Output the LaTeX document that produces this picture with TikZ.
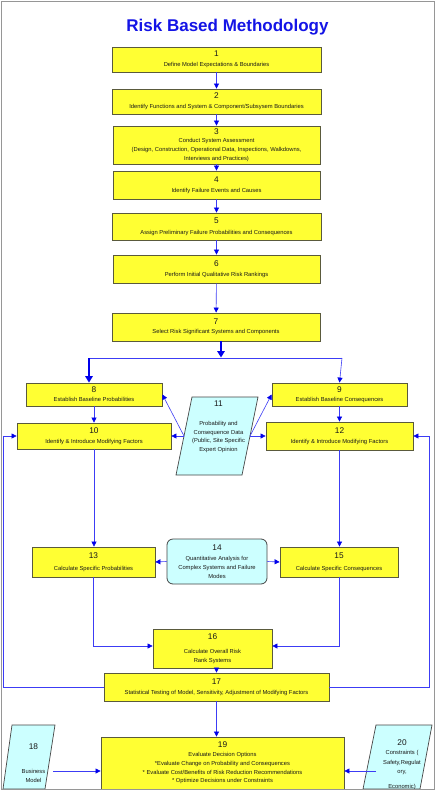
\documentclass[tikz,border=0pt]{standalone}
\usepackage{fontspec}
\setmainfont{Liberation Sans}
\usetikzlibrary{arrows.meta}
\definecolor{boxyel}{RGB}{255,255,51}
\definecolor{boxedge}{RGB}{90,90,60}
\definecolor{datacyan}{RGB}{204,255,255}
\definecolor{dataedge}{RGB}{70,70,70}
\definecolor{linkblue}{RGB}{60,60,245}
\definecolor{tipblue}{RGB}{0,0,235}
\definecolor{titleblue}{RGB}{20,20,230}
\definecolor{framegray}{RGB}{150,150,150}
\newcommand{\stepnum}[1]{{\fontsize{8.3}{8.8}\selectfont #1}}
\tikzset{
  stepbox/.style={draw=boxedge, fill=boxyel, line width=0.8pt, inner sep=0pt,
    align=center, font=\fontsize{5.8}{8.8}\selectfont, text=black!90},
  roundbox/.style={stepbox, fill=datacyan, draw=dataedge, rounded corners=6pt},
  datatext/.style={inner sep=0pt, align=center, font=\fontsize{5.8}{8.8}\selectfont, text=black!90},
  datashape/.style={draw=dataedge, fill=datacyan, line width=0.7pt},
  arr/.style={draw=linkblue, line width=0.6pt, -{Triangle[length=5pt,width=5pt,color=tipblue]}},
  thickarr/.style={draw=tipblue, line width=1.5pt, -{Triangle[length=6.5pt,width=7.5pt,color=tipblue]}},
  link/.style={draw=linkblue, line width=0.9pt},
}
\begin{document}
\begin{tikzpicture}[x=1pt,y=-1pt]
\useasboundingbox (0,0) rectangle (439,795);
\fill[white] (0,0) rectangle (439,795);

\node[font=\fontsize{17}{20}\selectfont\bfseries, text=titleblue, inner sep=0pt] (title) at (227.5,27.5) {Risk Based Methodology};

\node[stepbox, minimum width=209pt, minimum height=25pt] (b1) at (216.5,59.5) {\stepnum{1}\\[0.8pt]Define Model Expectations \& Boundaries};
\node[stepbox, minimum width=209pt, minimum height=25pt] (b2) at (216.5,101.5) {\stepnum{2}\\[0.8pt]Identify Functions and System \& Component/Subsysem Boundaries};
\node[stepbox, minimum width=207pt, minimum height=38pt] (b3) at (216.5,145) {\stepnum{3}\\Conduct System Assessment\\(Design, Construction, Operational Data, Inspections, Walkdowns,\\Interviews and Practices)};
\node[stepbox, minimum width=207pt, minimum height=28pt] (b4) at (216.5,185) {\stepnum{4}\\[1.5pt]Identify Failure Events and Causes};
\node[stepbox, minimum width=209pt, minimum height=27pt] (b5) at (216.5,226.5) {\stepnum{5}\\[2pt]Assign Preliminary Failure Probabilities and Consequences};
\node[stepbox, minimum width=207pt, minimum height=28pt] (b6) at (216.5,269) {\stepnum{6}\\[1pt]Perform Initial Qualitative Risk Rankings};
\node[stepbox, minimum width=208pt, minimum height=28pt] (b7) at (216,327) {\stepnum{7}\\Select Risk Significant Systems and Components};

\node[stepbox, minimum width=136pt, minimum height=23pt] (b8) at (94,394.5) {\stepnum{8}\\Establish Baseline Probabilities};
\node[stepbox, minimum width=135pt, minimum height=23pt] (b9) at (339.5,394.5) {\stepnum{9}\\Establish Baseline Consequences};
\node[stepbox, minimum width=154pt, minimum height=26pt] (b10) at (94,436) {\stepnum{10}\\[1pt]Identify \& Introduce Modifying Factors};
\node[stepbox, minimum width=147pt, minimum height=28pt] (b12) at (339.5,436) {\stepnum{12}\\[1.5pt]Identify \& Introduce Modifying Factors};

% 11 data parallelogram
\coordinate (p11a) at (192,397);
\coordinate (p11b) at (258,397);
\coordinate (p11c) at (242,475);
\coordinate (p11d) at (176,475);
\draw[datashape] (p11a) -- (p11b) -- (p11c) -- (p11d) -- cycle;
\node[datatext] (b11) at (218.5,427) {\stepnum{11}\\[9.5pt]Probability and\\Consequence Data\\(Public, Site Specific\\Expert Opinion};
\coordinate (c11L) at (184,436);
\coordinate (c11R) at (250,436);

\node[stepbox, minimum width=123pt, minimum height=30pt] (b13) at (93.5,562) {\stepnum{13}\\[3pt]Calculate Specific Probabilities};
\node[roundbox, minimum width=100pt, minimum height=45pt] (b14) at (217,561.5) {\stepnum{14}\\[1.5pt]Quantitative Analysis for\\Complex Systems and Failure\\Modes};
\node[stepbox, minimum width=118pt, minimum height=30pt] (b15) at (339,562) {\stepnum{15}\\[3pt]Calculate Specific Consequences};
\node[stepbox, minimum width=119pt, minimum height=39pt] (b16) at (212.5,648.5) {\stepnum{16}\\[6pt]Calculate Overall Risk\\Rank Systems};
\node[stepbox, minimum width=225pt, minimum height=28pt] (b17) at (216.5,687) {\stepnum{17}\\[1.5pt]Statistical Testing of Model, Sensitivity, Adjustment of Modifying Factors};
\node[stepbox, minimum width=243pt, minimum height=52pt] (b19) at (222.5,763) {\stepnum{19}\\Evaluate Decision Options\\*Evaluate Change on Probability and Consequences\\* Evaluate Cost/Benefits of Risk Reduction Recommendations\\* Optimize Decisions under Constraints};

% 18 and 20 data parallelograms
\draw[datashape] (12,725) -- (55,725) -- (45,789) -- (3,789) -- cycle;
\node[datatext] (b18) at (33.5,763) {\stepnum{18}\\[16pt]Business\\Model};
\draw[datashape] (376,725) -- (432,725) -- (420,789) -- (363,789) -- cycle;
\node[datatext] (b20) at (402,764.5) {\stepnum{20}\\[0.5pt]Constraints (\\[1pt]Safety,Regulat\\ory,\\[6pt]Economic)};
\coordinate (c18) at (53,771);
\coordinate (c20) at (376,771);

% main chain
\draw[arr] (b1) -- (b2);
\draw[arr] (b2) -- (b3);
\draw[arr] (b3) -- (b4);
\draw[arr] (b4) -- (b5);
\draw[arr] (b5) -- (b6);
\draw[arr] (b6) -- (b7);

% split
\coordinate (split) at (221,358);
\coordinate (splitL) at (89,358);
\coordinate (splitR) at (342,358);
\draw[thickarr] (split |- b7.south) -- ([yshift=0.5pt]split);
\draw[link] (splitL) -- (splitR);
\draw[thickarr] (splitL) -- (splitL |- b8.north);
\draw[arr] (splitR) -- (b9.north);

\draw[arr] (b8) -- (b10);
\draw[arr] (b9) -- (b12);

% data 11 links
\draw[arr] (c11L) -- (b8.east);
\draw[arr] (c11L) -- (b10.east);
\draw[arr] (c11R) -- (b9.west);
\draw[arr] (c11R) -- (b12.west);

\draw[arr] (b10.south) -- (b10.south |- b13.north);
\draw[arr] (b12.south) -- (b12.south |- b15.north);
\draw[arr] (b14.west) -- (b13.east);
\draw[arr] (b14.east) -- (b15.west);
\draw[arr] (b13.south) |- ([yshift=2.5pt]b16.west);
\draw[arr] (b15.south) |- ([yshift=2.5pt]b16.east);
\draw[arr] (b17.north |- b16.south) -- (b17.north);
\draw[arr] (b17.south) -- (b17.south |- b19.north);

% feedback loops
\coordinate (fbL) at (3,687);
\coordinate (fbR) at (429,687);
\draw[arr] (b17.west) -- (fbL) -- (fbL |- b10.west) -- (b10.west);
\draw[arr] (b17.east) -- (fbR) -- (fbR |- b12.east) -- (b12.east);

\draw[arr] (c18) -- (b19.west |- c18);
\draw[arr] (c20) -- (b19.east |- c20);

% frame
\draw[framegray, line width=1pt] (1,1) rectangle (434.5,789.5);
\end{tikzpicture}
\end{document}
